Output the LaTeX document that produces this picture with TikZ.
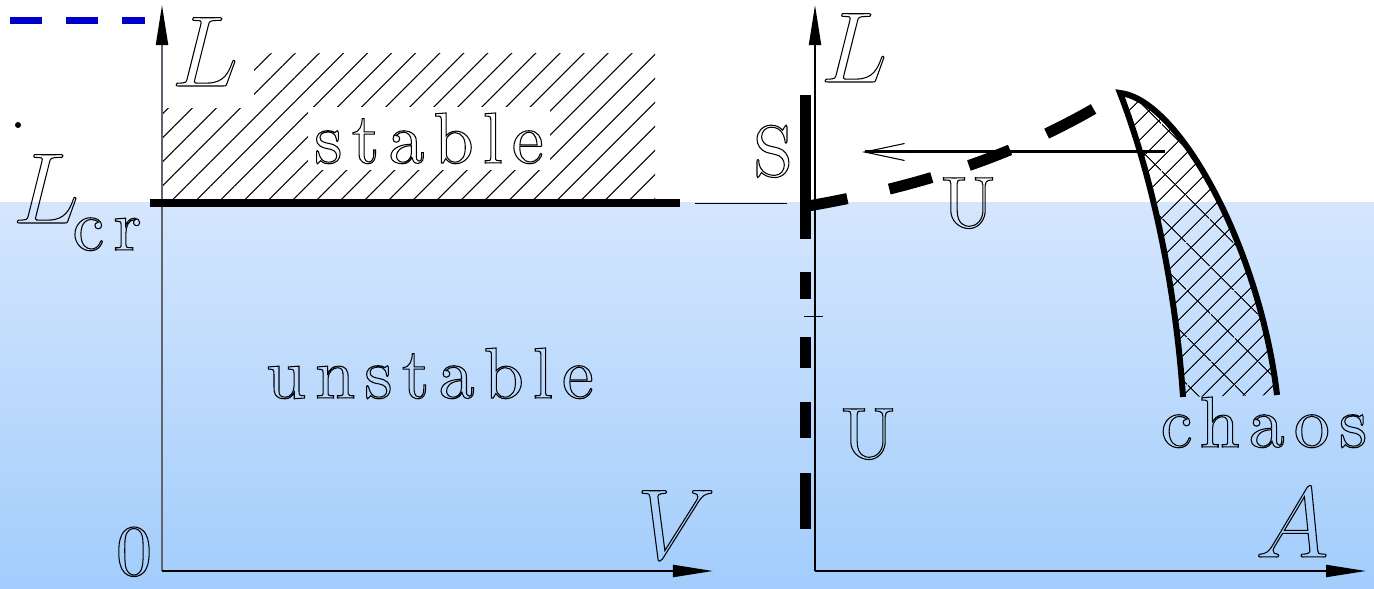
\RequirePackage{fix-cm}
\documentclass[tikz,border=0pt]{standalone}
\usepackage{fontspec}
\usetikzlibrary{arrows.meta,patterns.meta,positioning}

\definecolor{skytop}{RGB}{212,230,253}
\definecolor{skybot}{RGB}{162,205,252}
\definecolor{markblue}{RGB}{0,0,204}
\definecolor{axisgray}{RGB}{95,100,110}

\newfontfamily\wordfam{lmroman10-regular}[Extension=.otf, LetterSpace=12.5]
\newcommand{\hollow}[1]{\special{pdf:literal direct 1 Tr 0.3 w}#1\special{pdf:literal direct 0 Tr}}
\newcommand{\wordfont}{\fontsize{20.5}{24}\wordfam}
\newcommand{\symfont}{\fontsize{28.5}{32}\selectfont}

\tikzset{
  word/.style={font=\wordfont, inner sep=0pt, anchor=base},
  sym/.style={font=\symfont, inner sep=0pt, anchor=base},
  axis/.style={line width=0.02cm, -{Triangle[length=0.4cm,width=0.12cm,color=black]}},
  thickbar/.style={line width=0.11cm},
}

\begin{document}
\begin{tikzpicture}[x=0.01cm, y=-0.01cm]
\useasboundingbox (0,0) rectangle (1374,589);

% background
\fill[white] (0,0) rectangle (1374,203);
\shade[top color=skytop, bottom color=skybot] (0,203) rectangle (1374,589);

% marks in the corner
\coordinate (bl) at (10,21);
\coordinate (br) at (145,21);
\draw[markblue, line width=0.07cm, dash pattern=on 0.32cm off 0.24cm] (bl) -- (br);
\node[circle, fill, inner sep=0pt, minimum size=0.06cm] (dot) at (18,125) {};

% left panel: L over V
\coordinate (o1) at (162,571);
\coordinate (ytop1) at (162,5);
\coordinate (xend1) at (713,571);
\coordinate (crl) at (150,203);
\coordinate (crr) at (680,203);

\fill[pattern={Lines[angle=45,distance=0.17cm,line width=0.3pt]}] (162,54) rectangle (655,203);

\node[word, fill=white, inner sep=0.06cm] (stable) at (429,163) {\hollow{stable}};
\node[sym, fill=white, inner xsep=0.16cm, inner ysep=0.22cm] (lleft) at (205,86) {\hollow{$L$}};
\node[word] (unstable) at (430,398) {\hollow{unstable}};
\node[word] (zero) at (134,575) {\hollow{0}};
\node[sym] (vlbl) at (676,559) {\hollow{$V$}};
\node[sym, anchor=base west] (lcr) at (12,223)
  {\hollow{$L$\kern-0.07cm\raisebox{-0.27cm}{\wordfont cr}}};

\draw[axis, draw=axisgray] (o1) -- (ytop1);
\draw[axis] (o1) -- (xend1);
\draw[line width=0.08cm] (crl) -- (crr);

% right panel: L over A
\coordinate (o2) at (815,571);
\coordinate (ytop2) at (815,5);
\coordinate (xend2) at (1366,571);
\draw[axis] (o2) -- (ytop2);
\draw[axis] (o2) -- (xend2);
\node[sym] (lright) at (854,82) {\hollow{$L$}};
\node[sym] (albl) at (1292,557) {\hollow{$A$}};

% S branch on the axis
\coordinate (stop) at (805,95);
\coordinate (sbot) at (805,529);
\draw[thickbar, dash pattern=on 1.44cm off 0.33cm on 0.27cm off 0.38cm on 0.31cm off 0.34cm on 0.36cm off 0.35cm on 0.56cm off 1cm] (stop) -- (sbot);
\coordinate (lvl) at (695,204);
\coordinate (lvr) at (787,204);
\draw[line width=0.01cm] (lvl) -- (lvr);
\coordinate (tickl) at (804,317);
\coordinate (tickr) at (823,317);
\draw[line width=0.01cm] (tickl) -- (tickr);

\node[word] (slbl) at (773,176) {\hollow{S}};
\node[word] (u1) at (968,227) {\hollow{U}};
\node[word] (u2) at (868,458) {\hollow{U}};

% U branch
\coordinate (ubeg) at (808,206);
\coordinate (chtip) at (1120,93);
\draw[thickbar, dash pattern=on 0.40cm off 0.43cm on 0.44cm off 0.39cm on 0.44cm off 0.40cm on 0.53cm off 1cm]
  (ubeg) .. controls (930,185) and (1030,150) .. (chtip);

% chaos
\coordinate (chl) at (1183,397);
\coordinate (chr) at (1277,395);
\fill[pattern={Lines[angle=45,distance=0.14cm,line width=0.3pt]}]
  (chtip) .. controls (1150,170) and (1175,280) .. (chl) -- (chr) .. controls (1260,250) and (1180,100) .. (chtip);
\fill[pattern={Lines[angle=-45,distance=0.34cm,line width=0.3pt]}]
  (chtip) .. controls (1150,170) and (1175,280) .. (chl) -- (chr) .. controls (1260,250) and (1180,100) .. (chtip);
\draw[line width=0.06cm] (chl) .. controls (1175,280) and (1150,170) .. (chtip) .. controls (1180,100) and (1260,250) .. (chr);
\node[word] (chaos) at (1264,447) {\hollow{chaos}};

\coordinate (arrs) at (1165,152);
\coordinate (arre) at (862,152);
\draw[line width=0.03cm, -{Straight Barb[length=0.4cm,width=0.17cm,line width=0.3pt]}] (arrs) -- (arre);

\end{tikzpicture}
\end{document}
